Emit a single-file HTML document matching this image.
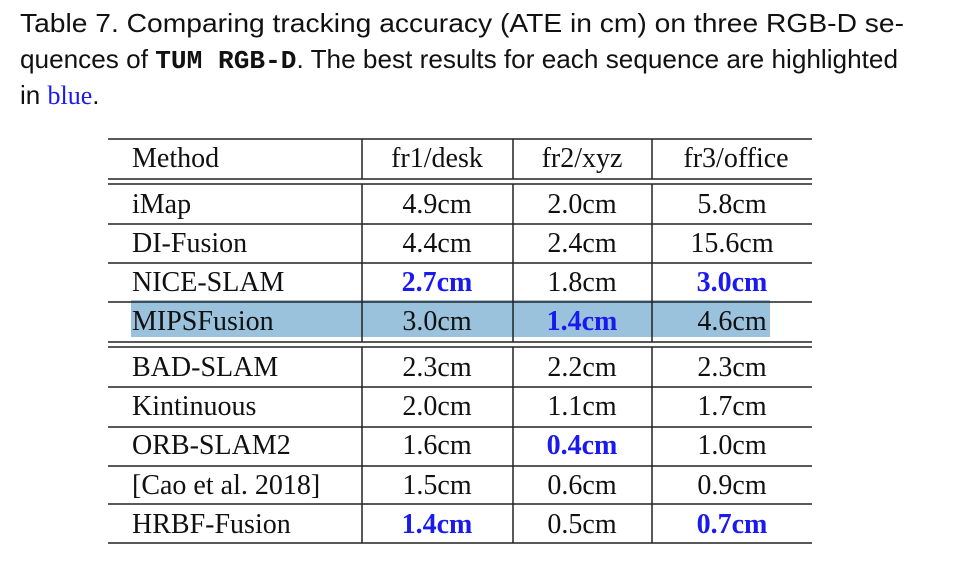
<!DOCTYPE html>
<html><head><meta charset="utf-8"><style>
html,body{margin:0;padding:0;background:#fff;width:965px;height:571px;overflow:hidden}
svg{display:block}
.cap{font-family:"Liberation Sans Narrow","Liberation Sans",sans-serif;font-size:26px;fill:#111}
.t{font-family:"Liberation Serif",serif;font-size:28px;fill:#111}
.b{font-weight:bold;fill:#1a1aee}
</style></head><body>
<svg width="965" height="571">
<g>
<text class="cap" x="20" y="32" textLength="884" lengthAdjust="spacingAndGlyphs">Table 7.  Comparing tracking accuracy (ATE in cm) on three RGB-D se-</text>
<text class="cap" x="20" y="68" textLength="878" lengthAdjust="spacingAndGlyphs">quences of <tspan style="font-family:'Liberation Mono',monospace;font-weight:bold">TUM RGB-D</tspan>. The best results for each sequence are highlighted</text>
<text class="cap" x="20" y="104">in <tspan style="font-family:'Liberation Serif',serif;fill:#1a1aee">blue</tspan>.</text>
</g>
<rect x="131" y="300" width="639" height="37" fill="#9bc2dc"/>
<g id="lines" stroke="#222" stroke-width="1.5"></g>
<g id="cells"></g>
</svg>
<script>
const methods=["iMap","DI-Fusion","NICE-SLAM","MIPSFusion","BAD-SLAM","Kintinuous","ORB-SLAM2","[Cao et al. 2018]","HRBF-Fusion"];
const headers=["Method","fr1/desk","fr2/xyz","fr3/office"];
const col1=["4.9cm","4.4cm","2.7cm","3.0cm","2.3cm","2.0cm","1.6cm","1.5cm","1.4cm"];
const col2=["2.0cm","2.4cm","1.8cm","1.4cm","2.2cm","1.1cm","0.4cm","0.6cm","0.5cm"];
const col3=["5.8cm","15.6cm","3.0cm","4.6cm","2.3cm","1.7cm","1.0cm","0.9cm","0.7cm"];
const best1=[2,8], best2=[3,6], best3=[2,8];
const NS="http://www.w3.org/2000/svg";
const L=document.getElementById('lines'), C=document.getElementById('cells');
function line(x1,y1,x2,y2){const e=document.createElementNS(NS,'line');e.setAttribute('x1',x1);e.setAttribute('y1',y1);e.setAttribute('x2',x2);e.setAttribute('y2',y2);


L.appendChild(e);}
[139,179,184,224,263,302,342,347,387,427,466,504,543].forEach(y=>line(108,y,812,y));
[362,513,652].forEach(x=>{line(x,139,x,179);line(x,184,x,342);line(x,347,x,543);});
function txt(s,x,y,anchor,bold){const e=document.createElementNS(NS,'text');e.setAttribute('x',x);e.setAttribute('y',y);e.setAttribute('class','t'+(bold?' b':''));e.setAttribute('text-anchor',anchor);e.textContent=s;


C.appendChild(e);}
txt(headers[0],132,167,'start');
txt(headers[1],437,167,'middle');txt(headers[2],582,167,'middle');txt(headers[3],736,167,'middle');
const ys=[213,252,291,330,376,415,454,494,533];
methods.forEach((m,i)=>{
 txt(m,132,ys[i],'start');
 txt(col1[i],437,ys[i],'middle',best1.includes(i));
 txt(col2[i],582,ys[i],'middle',best2.includes(i));
 txt(col3[i],732,ys[i],'middle',best3.includes(i));
});
</script>
</body></html>
